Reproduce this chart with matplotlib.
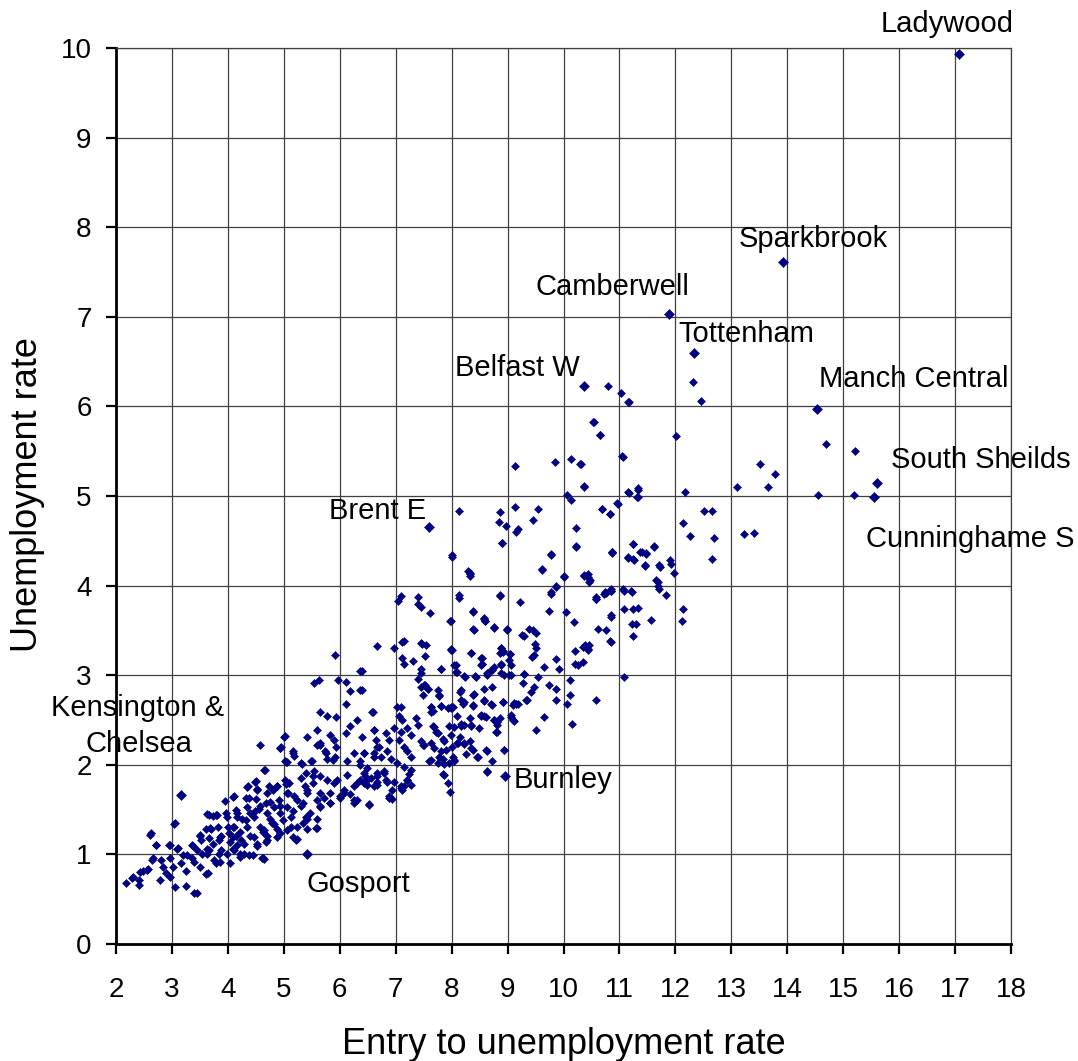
import matplotlib
matplotlib.use("Agg")
import matplotlib.pyplot as plt

# ---------------- data (entry to unemployment rate, unemployment rate) ----------------
pts_lowleft = [
    (4.57,2.22),(4.95,2.20),(5.16,2.13),(5.04,2.03),(5.31,2.02),(5.49,2.04),(5.64,2.22),(5.76,2.13),(5.94,2.20),(5.88,2.05),
    (4.66,1.94),(4.50,1.82),(4.36,1.76),(3.94,1.60),(4.09,1.64),(4.32,1.63),(4.51,1.62),(4.15,1.49),(3.97,1.46),(3.67,1.44),(3.79,1.44),
    (3.05,1.35),(3.61,1.28),(3.50,1.22),(2.63,1.24),(2.72,1.10),(2.96,1.11),(3.11,1.07),(3.38,1.09),(3.52,1.16),(3.67,1.18),(3.85,1.16),
    (4.00,1.31),(4.15,1.20),(4.33,1.38),(4.48,1.48),(4.69,1.57),(4.81,1.72),(5.04,1.79),(5.19,1.65),(5.37,1.76),(5.52,1.87),(5.64,1.68),
    (5.82,1.57),(6.00,1.65),(5.64,1.53),(5.40,1.42),(5.58,1.29),(5.22,1.16),(4.93,1.24),(4.78,1.35),(4.63,1.25),(4.69,1.14),(4.45,0.99),
    (4.63,0.96),(4.21,1.01),(4.03,1.14),(3.85,1.01),(3.79,0.90),(3.64,0.79),(3.50,0.86),(3.35,0.96),(3.26,0.82),(3.17,0.90),(3.02,0.86),
    (2.90,0.79),(2.84,0.86),(2.66,0.96),(2.57,0.84),(2.48,0.81),(2.42,0.71),(2.30,0.75),(2.17,0.68),(2.42,0.66),(2.78,0.71),(2.96,0.75),
    (3.05,0.64),(3.26,0.65),(3.44,0.57),(3.67,1.05),(3.44,1.05),(3.20,0.99),(2.96,0.96),(2.81,0.94),
]
pts_cluster = [
    (3.68,1.29),(3.83,1.31),(3.86,1.19),(3.74,1.12),(3.63,1.06),(4.10,1.31),(4.10,1.19),(4.22,1.25),(4.34,1.31),(4.46,1.42),
    (4.55,1.51),(4.70,1.46),(4.82,1.53),(4.91,1.61),(5.05,1.53),(5.17,1.48),(4.99,1.38),(4.82,1.34),(4.64,1.27),(4.46,1.19),
    (4.28,1.12),(4.10,1.06),(3.98,1.01),(4.52,1.12),(4.70,1.16),(4.88,1.19),(5.05,1.27),(5.17,1.19),(5.23,1.31),(4.37,1.63),
    (4.52,1.72),(4.73,1.76),(4.88,1.76),(5.02,1.83),(5.08,1.69),(4.34,1.53),(4.16,1.42),(3.98,1.42),(3.54,1.01),(3.39,0.91),
    (3.27,0.99),(2.29,0.74),(2.43,0.80),(2.55,0.83),(2.64,0.94),(2.61,1.22),(2.71,1.11),(2.94,1.11),(3.04,1.34),(3.09,1.06),
    (3.40,0.57),(3.36,1.10),(3.74,1.43),(3.80,1.44),(3.60,0.78),(3.86,0.91),(4.03,0.90),(4.34,1.75),(4.65,1.94),(5.00,2.31),
    (4.93,2.19),(5.02,2.04),(4.64,0.95),(4.37,0.99),(4.22,0.97),(4.16,1.11),
]
pts_mid5 = [
    (6.67,3.33),(5.92,3.23),(6.37,3.05),(5.54,2.91),(5.63,2.95),(5.96,2.95),(6.11,2.92),(6.19,2.82),(6.37,2.84),(6.11,2.68),
    (6.59,2.59),(5.64,2.59),(5.77,2.55),(5.94,2.53),(6.31,2.50),(6.18,2.43),(6.62,2.39),(6.11,2.35),(5.60,2.39),(5.42,2.31),
    (5.02,2.32),(4.94,2.19),(5.17,2.15),(5.19,2.10),(5.05,2.03),(5.33,2.01),(5.51,2.04),(5.60,2.22),(5.65,2.24),(5.83,2.33),
    (5.89,2.28),(5.74,2.15),(5.77,2.06),(5.92,2.09),(6.25,2.13),(6.43,2.13),(6.13,2.04),(6.37,2.04),(6.61,2.09),(6.67,2.20),
    (4.49,1.81),(4.11,1.65),(3.63,1.45),(3.69,1.28),(4.17,1.46),(4.52,1.73),(4.70,1.68),(4.88,1.76),(5.09,1.80),(5.30,1.85),
    (5.39,1.91),(5.54,1.93),(5.65,1.87),(5.77,1.83),(5.95,1.83),(6.13,1.89),(6.31,1.80),(6.49,1.83),(6.67,1.91),(6.52,1.55),
    (6.25,1.61),(6.07,1.68),(5.83,1.57),(5.60,1.61),(5.42,1.72),(5.24,1.61),(5.06,1.68),(4.94,1.54),(4.76,1.59),(4.58,1.54),
    (4.40,1.46),(4.26,1.39),(4.11,1.31),(4.02,1.24),(3.87,1.20),(4.23,1.16),(4.40,1.20),(4.58,1.31),(4.76,1.39),(4.94,1.46),
    (5.12,1.42),(5.30,1.54),(5.42,1.39),(5.60,1.29),(5.24,1.17),(5.12,1.31),(4.88,1.28),(4.70,1.20),(4.52,1.09),(4.61,0.96),
    (4.29,1.01),(4.11,1.05),(3.87,1.05),(3.75,0.94),(3.63,1.01),(3.51,1.20),
    (6.52,1.56),(6.88,1.63),(6.94,1.62),(7.09,1.74),(7.15,1.76),(6.82,1.83),(6.67,1.78),(6.43,1.80),(6.46,1.87),(6.25,1.76),
    (6.19,1.67),(6.07,1.72),(6.01,1.63),(5.89,1.80),(5.83,1.69),(5.71,1.63),(5.65,1.54),(5.53,1.80),(5.41,1.69),(5.35,1.57),
    (5.47,1.46),(5.59,1.39),(5.35,1.35),(5.41,1.28),(6.25,1.57),(6.31,1.61),(6.67,1.87),(6.79,1.93),(7.21,1.83),(7.24,1.90),
]
pts_mid7 = [
    (6.97,3.30),(7.12,3.37),(7.45,3.36),(7.54,3.34),(7.99,3.29),(8.35,3.25),(8.53,3.19),(8.53,3.11),(8.89,3.30),(8.92,3.27),
    (9.04,3.24),(9.43,3.20),
    (7.04,3.83),(7.39,3.80),(7.45,3.76),(7.61,3.69),(7.97,3.60),(8.39,3.70),(8.58,3.63),(8.60,3.60),(8.40,3.51),(8.76,3.54),
    (8.99,3.51),(9.29,3.44),(7.14,3.38),(7.47,3.35),(7.12,3.19),(7.15,3.12),(7.31,3.16),(7.52,3.21),(7.45,3.07),(7.81,3.07),
    (7.98,3.28),(8.55,3.13),(8.87,3.25),(8.07,3.11),(8.09,3.04),(8.24,2.98),(8.43,2.98),(8.64,3.00),(8.73,3.06),(8.88,3.13),
    (8.94,3.00),(9.06,3.00),(9.30,3.01),(9.27,2.91),(6.40,3.05),(6.40,2.84),(7.40,2.96),(7.51,2.89),(7.57,2.85),(7.76,2.84),
    (7.78,2.77),(8.16,2.83),(8.40,2.79),(8.16,2.72),(8.22,2.70),(8.39,2.67),(8.57,2.71),(8.73,2.67),(8.92,2.70),(9.09,2.67),
    (9.15,2.68),(9.33,2.72),(6.58,2.59),(7.02,2.65),(7.09,2.65),(7.64,2.65),(7.63,2.59),(7.81,2.66),(7.94,2.63),(7.99,2.65),
    (8.09,2.54),(8.33,2.52),(8.52,2.56),(8.58,2.54),(8.76,2.50),(8.87,2.52),(8.82,2.44),(9.06,2.56),(9.09,2.50),(8.79,2.37),
    (6.61,2.39),(7.06,2.54),(7.12,2.50),(7.36,2.52),(7.39,2.44),(6.97,2.41),(7.09,2.37),(7.21,2.41),(7.27,2.33),(7.66,2.43),
    (7.72,2.37),(7.84,2.29),(7.96,2.43),(7.99,2.33),(8.16,2.43),(8.22,2.44),(8.34,2.43),(8.49,2.41),(7.48,2.22),(7.63,2.24),
    (7.69,2.19),(7.81,2.15),(8.01,2.20),(8.10,2.24),(8.22,2.24),(8.34,2.19),(8.46,2.09),(8.61,2.16),(8.73,2.04),(8.94,2.17),
    (6.40,2.31),(6.43,2.13),(6.64,2.28),(6.70,2.20),(6.82,2.35),(6.88,2.28),(6.61,2.13),(6.73,2.09),(6.85,2.15),(6.91,2.07),
    (7.06,2.28),(7.15,2.20),(7.21,2.15),(7.27,2.09),(7.03,2.02),(7.15,1.98),(7.27,1.94),(7.60,2.04),(7.75,2.02),(7.84,2.06),
    (7.96,2.02),(8.04,2.04),(8.63,1.93),(7.85,1.90),(7.93,1.80),(7.97,1.70),(6.43,1.91),(6.55,1.85),(6.67,1.81),(6.37,2.00),
    (6.49,1.96),(6.79,1.91),(6.85,1.81),(6.97,1.81),(7.09,1.76),(7.21,1.83),(7.27,1.78),(6.94,1.72),(6.88,1.65),(7.12,1.72),
    (6.49,1.78),(6.61,1.76),(6.37,1.83),
]
pts_mid9 = [
    (8.90,4.47),(8.00,4.32),(8.32,4.14),(8.33,4.11),(9.77,4.34),(10.22,4.43),(10.86,4.36),(9.61,4.17),(10.01,4.10),(10.37,4.12),
    (10.43,4.10),(10.46,4.04),(9.86,3.98),(9.77,3.91),(10.73,3.91),(10.85,3.94),(10.58,3.85),(8.14,3.86),(8.87,3.88),(9.23,3.82),
    (9.74,3.72),(10.05,3.71),(10.18,3.59),(10.85,3.65),(8.39,3.72),(8.58,3.64),(8.60,3.60),(7.98,3.61),(8.39,3.52),(8.75,3.53),
    (8.99,3.52),(9.26,3.45),(9.39,3.52),(9.45,3.50),(9.51,3.47),(10.76,3.50),(9.49,3.35),(9.51,3.30),(9.48,3.22),(10.34,3.32),
    (10.46,3.34),(10.43,3.28),(10.85,3.37),(8.00,3.28),(8.35,3.25),(8.88,3.30),(8.91,3.26),(9.05,3.24),(9.03,3.17),(8.54,3.19),
    (8.55,3.12),(9.86,3.18),(9.92,3.07),(9.65,3.09),(10.20,3.13),(10.26,3.11),(7.81,3.07),(8.05,3.11),(8.08,3.04),(8.23,2.99),
    (8.42,2.99),(8.64,3.02),(8.71,3.06),(8.76,3.09),(8.88,3.11),(8.89,3.02),(9.03,3.00),(9.06,3.11),(9.30,3.01),(9.54,2.98),
    (9.48,2.87),(9.42,2.81),(9.74,2.89),(9.86,2.85),(9.86,2.72),(10.11,2.78),(10.07,2.68),(10.58,2.72),(10.15,2.46),(9.65,2.53),
    (9.51,2.39),(7.52,2.89),(7.57,2.85),(7.78,2.78),(8.15,2.81),(8.39,2.78),(8.57,2.85),(8.73,2.87),(8.57,2.72),(8.70,2.68),
    (8.91,2.70),(9.12,2.69),(9.18,2.68),(9.35,2.72),(7.63,2.65),(7.66,2.60),(7.81,2.66),(7.99,2.63),(8.02,2.65),(8.20,2.68),
    (8.38,2.66),(8.52,2.54),(8.61,2.53),(8.75,2.50),(8.82,2.48),(8.82,2.37),(9.07,2.53),(9.11,2.49),(7.69,2.42),(7.75,2.35),
    (7.87,2.27),(8.05,2.42),(8.17,2.45),(8.35,2.44),(8.15,2.31),(8.11,2.24),(8.23,2.23),(8.32,2.27),(8.38,2.17),(8.26,2.12),
    (8.48,2.09),(8.63,2.15),(8.93,2.17),(7.90,2.16),(8.02,2.09),(8.05,2.05),(7.63,2.05),(7.78,2.09),(7.87,2.01),(7.51,2.22),
    (7.45,2.27),(7.86,1.89),(8.64,1.92),(7.45,3.02),(7.45,2.87),(7.48,2.78),(11.08,2.98),(10.12,2.95),(10.35,3.15),(10.20,3.27),
]
pts_upper = [
    (11.15,6.05),(10.53,5.83),(10.65,5.68),(11.05,5.45),(9.14,5.34),(9.85,5.38),(10.13,5.41),(10.30,5.36),(10.37,5.11),(10.07,5.01),
    (10.14,4.96),(11.15,5.04),(11.33,5.09),(11.32,4.99),(10.96,4.92),(10.68,4.86),(10.83,4.80),(8.14,4.83),(8.87,4.82),(9.14,4.88),
    (9.54,4.86),(8.84,4.71),(8.97,4.67),(9.45,4.73),(9.15,4.60),(9.18,4.63),(8.90,4.48),(10.23,4.64),(10.23,4.44),(8.00,4.34),
    (8.30,4.16),(8.33,4.13),(9.78,4.35),(9.61,4.18),(10.01,4.11),(10.37,4.11),(10.44,4.13),(10.47,4.06),(10.86,4.37),(11.25,4.46),
    (11.15,4.32),(11.24,4.30),(11.37,4.38),(11.47,4.36),(11.46,4.23),(11.61,4.44),(11.71,4.23),(11.66,4.06),(11.69,3.99),(8.14,3.89),
    (8.87,3.90),(9.86,4.00),(9.77,3.93),(10.74,3.93),(10.85,3.96),(11.07,3.96),(11.21,3.94),(7.39,3.87),(7.10,3.88),(10.58,3.87),
]
pts_right = [
    (10.80,6.23),(11.02,6.15),(11.17,6.05),(12.31,6.27),(12.45,6.06),(10.54,5.83),(10.66,5.68),(12.02,5.67),(11.06,5.44),(10.31,5.36),
    (10.37,5.10),(11.17,5.03),(11.34,5.07),(11.33,4.99),(12.17,5.04),(10.68,4.85),(10.83,4.80),(10.97,4.91),(12.51,4.83),(12.65,4.83),
    (12.14,4.70),(12.26,4.55),(12.69,4.53),(12.65,4.30),(13.22,4.58),(13.41,4.59),(13.11,5.10),(13.52,5.36),(13.65,5.10),(13.78,5.24),
    (14.69,5.58),(14.55,5.01),(15.21,5.50),(15.20,5.01),(11.25,4.46),(10.87,4.37),(11.15,4.31),(11.26,4.29),(11.41,4.37),(11.48,4.35),
    (11.62,4.43),(11.46,4.22),(11.73,4.21),(11.90,4.29),(11.93,4.24),(11.98,4.14),(11.69,4.04),(11.70,3.96),(11.84,3.89),(10.58,3.85),
    (10.76,3.92),(10.85,3.94),(11.09,3.94),(11.23,3.93),(11.09,3.74),(11.24,3.74),(11.33,3.75),(11.22,3.57),(11.30,3.57),(11.24,3.44),
    (10.85,3.67),(10.61,3.52),(11.56,3.62),(10.84,3.38),(12.14,3.74),(12.11,3.60),(10.38,3.34),(10.44,3.29),
]

# labelled constituencies
label_names = ["Ladywood", "Sparkbrook", "Camberwell", "Tottenham", "Belfast W", "Manch Central",
               "South Sheilds", "Cunninghame S", "Brent E", "Burnley", "Gosport", "Kensington &\nChelsea"]
label_entry = [17.07, 13.92, 11.88, 12.33, 10.37, 14.53, 15.60, 15.55, 7.60, 8.95, 5.42, 3.17]
label_unemp = [9.93, 7.61, 7.03, 6.60, 6.23, 5.97, 5.15, 4.99, 4.65, 1.87, 1.00, 1.66]

x_ticks = list(range(2, 19))
y_ticks = list(range(0, 11))
x_title = "Entry to unemployment rate"
y_title = "Unemployment rate"

# ---------------- style ----------------
NAVY = "#000080"
FONT = ["Liberation Sans", "DejaVu Sans"]
plt.rcParams["font.family"] = FONT

W, H = 1078, 1061
fig = plt.figure(figsize=(W / 100, H / 100), dpi=100)
L, R, T, B = 116, 1011, 48, 944
ax = fig.add_axes([L / W, 1 - B / H, (R - L) / W, (B - T) / H])

groups = [pts_lowleft, pts_cluster, pts_mid5, pts_mid7, pts_mid9, pts_upper, pts_right]
for g in groups:
    xs = [p[0] for p in g]
    ys = [p[1] for p in g]
    ax.plot(xs, ys, linestyle="none", marker="D", ms=4.2, mew=0.4,
            color=NAVY, mec=NAVY, zorder=3, clip_on=False)

ax.plot(label_entry, label_unemp, linestyle="none", marker="D", ms=5.6, mew=0.4,
        color=NAVY, mec=NAVY, zorder=4, clip_on=False)

ax.set_xlim(2, 18)
ax.set_ylim(0, 10)
ax.set_xticks(x_ticks)
ax.set_yticks(y_ticks)
ax.set_xticklabels([str(v) for v in x_ticks])
ax.set_yticklabels([str(v) for v in y_ticks])

ax.grid(True, color="#404040", linewidth=0.9)
ax.set_axisbelow(True)
for s in ["top", "right"]:
    ax.spines[s].set_color("#404040")
    ax.spines[s].set_linewidth(0.9)
for s in ["left", "bottom"]:
    ax.spines[s].set_color("black")
    ax.spines[s].set_linewidth(2.0)

ax.tick_params(axis="x", direction="out", length=7.5, width=1.6, pad=16, labelsize=20, colors="black")
ax.tick_params(axis="y", direction="out", length=7.5, width=1.6, pad=10, labelsize=20, colors="black")

# label text positions (data coords, baseline, centred)
text_pos = {
    "Ladywood": (16.86, 10.18),
    "Sparkbrook": (14.46, 7.78),
    "Camberwell": (10.87, 7.24),
    "Tottenham": (13.26, 6.72),
    "Belfast W": (9.17, 6.34),
    "Manch Central": (16.27, 6.22),
    "South Sheilds": (17.46, 5.31),
    "Cunninghame S": (17.27, 4.43),
    "Brent E": (6.68, 4.74),
    "Burnley": (9.99, 1.74),
    "Gosport": (6.34, 0.58),
}
ANN = 21
for name in label_names:
    if name in text_pos:
        tx, ty = text_pos[name]
        ax.text(tx, ty, name, ha="center", va="baseline", fontsize=ANN,
                color="black", clip_on=False, zorder=5)
    else:
        l1, l2 = name.split("\n")
        ax.text(2.39, 2.545, l1, ha="center", va="baseline", fontsize=ANN, clip_on=False, zorder=5)
        ax.text(2.41, 2.143, l2, ha="center", va="baseline", fontsize=ANN, clip_on=False, zorder=5)

fig.text((L + R) / 2 / W, 1 - 1054 / H, x_title, ha="center", va="baseline", fontsize=26)
fig.text(28 / W, 1 - 495 / H, y_title, ha="center", va="center", rotation=90, fontsize=26)

fig.savefig("out.png", dpi=100, facecolor="white")
